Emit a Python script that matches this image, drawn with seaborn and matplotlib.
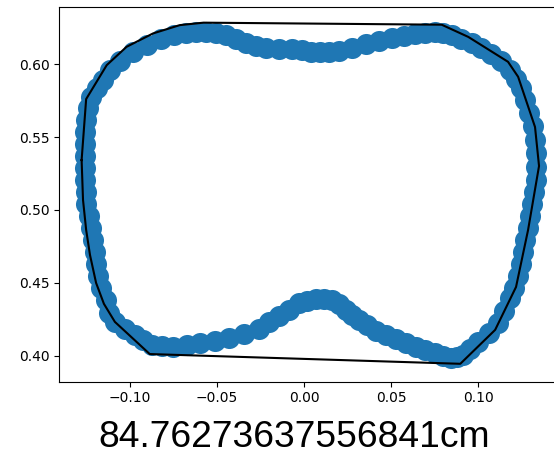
import matplotlib
matplotlib.use("Agg")
import matplotlib.pyplot as plt
import seaborn as sns

# контур: центры точек полосы (по часовой стрелке, от левого края)
contour_x = [-0.1137, -0.1166, -0.1183, -0.1194, -0.1203, -0.1211, -0.1223, -0.1237, -0.1251, -0.1254,
             -0.1257, -0.1257, -0.1257, -0.1257, -0.1257, -0.1251, -0.1243, -0.1223, -0.1190, -0.1154,
             -0.1114, -0.1057, -0.0980, -0.0903, -0.0823, -0.0749, -0.0676, -0.0619, -0.0562, -0.0505,
             -0.0447, -0.0390, -0.0333, -0.0276, -0.0219, -0.0143, -0.0067, -0.0011, 0.0040, 0.0091,
             0.0143, 0.0200, 0.0274, 0.0353, 0.0429, 0.0505, 0.0571, 0.0638, 0.0697, 0.0753,
             0.0800, 0.0847, 0.0903, 0.0962, 0.1017, 0.1076, 0.1131, 0.1181, 0.1217, 0.1247,
             0.1266, 0.1291, 0.1314, 0.1326, 0.1334, 0.1334, 0.1329, 0.1320, 0.1311, 0.1297,
             0.1283, 0.1269, 0.1257, 0.1243, 0.1226, 0.1206, 0.1183, 0.1149, 0.1114, 0.1063,
             0.1000, 0.0954, 0.0914, 0.0880, 0.0846, 0.0800, 0.0754, 0.0697, 0.0640, 0.0583,
             0.0526, 0.0469, 0.0411, 0.0360, 0.0314, 0.0274, 0.0240, 0.0200, 0.0160, 0.0114,
             0.0069, 0.0017, -0.0029, -0.0086, -0.0143, -0.0200, -0.0257, -0.0343, -0.0429, -0.0514,
             -0.0600, -0.0674, -0.0754, -0.0817, -0.0874, -0.0926, -0.0971, -0.1029, -0.1086, -0.1120]
contour_y = [0.4382, 0.4465, 0.4547, 0.4629, 0.4712, 0.4794, 0.4876, 0.4959, 0.5041, 0.5124,
             0.5206, 0.5288, 0.5371, 0.5453, 0.5535, 0.5618, 0.5700, 0.5776, 0.5835, 0.5892,
             0.5961, 0.6023, 0.6084, 0.6136, 0.6177, 0.6205, 0.6218, 0.6224, 0.6226, 0.6218,
             0.6201, 0.6174, 0.6148, 0.6126, 0.6110, 0.6105, 0.6103, 0.6096, 0.6088, 0.6084,
             0.6084, 0.6089, 0.6112, 0.6137, 0.6160, 0.6183, 0.6198, 0.6208, 0.6218, 0.6222,
             0.6215, 0.6201, 0.6174, 0.6144, 0.6112, 0.6075, 0.6023, 0.5961, 0.5899, 0.5835,
             0.5755, 0.5666, 0.5577, 0.5480, 0.5391, 0.5295, 0.5206, 0.5124, 0.5041, 0.4959,
             0.4876, 0.4794, 0.4712, 0.4629, 0.4547, 0.4465, 0.4396, 0.4307, 0.4225, 0.4156,
             0.4094, 0.4046, 0.4005, 0.3991, 0.3984, 0.3998, 0.4019, 0.4039, 0.4060, 0.4087,
             0.4115, 0.4142, 0.4170, 0.4211, 0.4245, 0.4279, 0.4314, 0.4355, 0.4382, 0.4389,
             0.4389, 0.4375, 0.4362, 0.4314, 0.4273, 0.4231, 0.4184, 0.4149, 0.4122, 0.4101,
             0.4087, 0.4074, 0.4060, 0.4063, 0.4074, 0.4108, 0.4142, 0.4184, 0.4231, 0.4293]

# выпуклая оболочка
hull_x = [-0.1277, -0.1251, -0.1133, -0.1019, -0.0867, -0.0714, -0.0577, 0.0790, 0.0943, 0.1171,
          0.1229, 0.1326, 0.1349, 0.1286, 0.1217, 0.1097, 0.0897, -0.0886, -0.1086, -0.1149,
          -0.1194, -0.1229, -0.1251, -0.1269]
hull_y = [0.5343, 0.5762, 0.5995, 0.6121, 0.6213, 0.6270, 0.6287, 0.6273, 0.6189, 0.6018,
          0.5915, 0.5570, 0.5302, 0.4862, 0.4471, 0.4176, 0.3943, 0.4010, 0.4231, 0.4355,
          0.4499, 0.4691, 0.4863, 0.5069]

perimeter_label = "84.76273637556841cm"

fig = plt.figure(figsize=(5.54, 4.55), dpi=100)
ax = fig.add_axes([0.1074, 0.1611, 0.9052, 0.8246])

sns.scatterplot(x=contour_x, y=contour_y, s=230, color='#1f77b4', linewidth=0, alpha=1, ax=ax)
sns.lineplot(x=hull_x + hull_x[:1], y=hull_y + hull_y[:1], sort=False, estimator=None,
             color='black', linewidth=1.5, ax=ax)

ax.set_xlim(-0.1404, 0.1475)
ax.set_ylim(0.3820, 0.6398)
ax.set_xticks([-0.10, -0.05, 0.00, 0.05, 0.10])
ax.set_yticks([0.40, 0.45, 0.50, 0.55, 0.60])
ax.set_xticklabels(['\u22120.10', '\u22120.05', '0.00', '0.05', '0.10'])
ax.set_yticklabels(['0.40', '0.45', '0.50', '0.55', '0.60'])

fig.text(0.5316, 0.0176, perimeter_label, ha='center', va='baseline',
         fontsize=26.8, family=['Liberation Sans', 'DejaVu Sans'])

fig.savefig("out.png", dpi=100)
